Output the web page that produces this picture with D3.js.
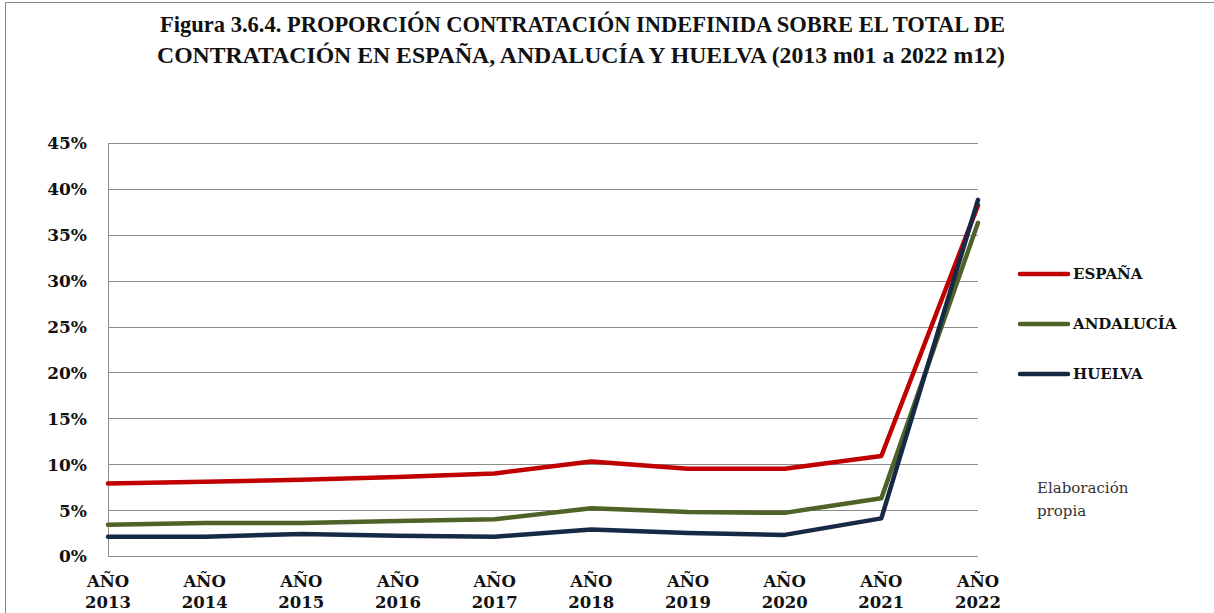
<!DOCTYPE html>
<html>
<head>
<meta charset="utf-8">
<script src="https://cdn.jsdelivr.net/npm/d3@7"></script>
<style>
  body { margin: 0; background: #fff; }
  svg { display: block; }
</style>
</head>
<body>
<script>
// datos
var years = ["2013", "2014", "2015", "2016", "2017", "2018", "2019", "2020", "2021", "2022"];
var espana    = [7.9, 8.1, 8.3, 8.6, 9.0, 10.3, 9.5, 9.5, 10.9, 38.2];
var andalucia = [3.4, 3.6, 3.6, 3.8, 4.0, 5.2, 4.8, 4.7, 6.3, 36.3];
var huelva    = [2.1, 2.1, 2.4, 2.2, 2.1, 2.9, 2.5, 2.3, 4.1, 38.8];
var yTicks = [0, 5, 10, 15, 20, 25, 30, 35, 40, 45];

var series = [
  {name: "ESPAÑA", values: espana, color: "#c00000"},
  {name: "ANDALUCÍA", values: andalucia, color: "#4f6228"},
  {name: "HUELVA", values: huelva, color: "#172a45"}
];

var width = 1214,
    height = 613;

var plot_left = 108, plot_right = 978, plot_top = 143, plot_bottom = 556;

var svg = d3.select("body").append("svg")
    .attr("width", width)
    .attr("height", height);

// marco exterior
svg.append("path")
    .attr("d", "M5.5," + height + "V2.5H" + width)
    .attr("fill", "none")
    .attr("stroke", "#888")
    .attr("stroke-width", 1);

var title = svg.append("g")
    .attr("font-family", "'Liberation Serif', serif")
    .attr("font-weight", "bold")
    .attr("font-size", 23)
    .attr("fill", "#111")
    .style("white-space", "pre");
title.append("text")
    .attr("x", 160).attr("y", 32)
    .attr("textLength", 845).attr("lengthAdjust", "spacingAndGlyphs")
    .text("Figura 3.6.4. PROPORCIÓN CONTRATACIÓN INDEFINIDA SOBRE EL TOTAL DE");
title.append("text")
    .attr("x", 157).attr("y", 63)
    .attr("textLength", 848).attr("lengthAdjust", "spacingAndGlyphs")
    .text("CONTRATACIÓN  EN ESPAÑA, ANDALUCÍA Y HUELVA (2013 m01 a 2022 m12)");

var x = d3.scalePoint()
    .domain(years)
    .range([plot_left, plot_right]);

var y = d3.scaleLinear()
    .domain([0, 45])
    .range([plot_bottom, plot_top]);

// rejilla
svg.append("g")
    .selectAll("line")
    .data(yTicks)
  .enter().append("line")
    .attr("x1", plot_left)
    .attr("x2", plot_right)
    .attr("y1", function(d) { return Math.round(y(d)) + 0.5; })
    .attr("y2", function(d) { return Math.round(y(d)) + 0.5; })
    .attr("stroke", "#8c8c8c")
    .attr("stroke-width", 1);

svg.append("line")
    .attr("x1", plot_left + 0.5).attr("x2", plot_left + 0.5)
    .attr("y1", plot_top).attr("y2", plot_bottom)
    .attr("stroke", "#8c8c8c");

var yAxis = svg.append("g")
    .attr("transform", "translate(" + (plot_left - 18) + ",0)")
    .call(d3.axisLeft(y).tickValues(yTicks).tickSize(0).tickFormat(function(d) { return d + "%"; }));
yAxis.select(".domain").remove();
yAxis.selectAll("text")
    .attr("font-family", "'DejaVu Serif', serif")
    .attr("font-weight", "bold")
    .attr("font-size", 17)
    .attr("fill", "#111")
    .attr("dy", "0.35em");

// eje x
var xLab = svg.append("g")
    .attr("font-family", "'DejaVu Serif', serif")
    .attr("font-weight", "bold")
    .attr("font-size", 16.5)
    .attr("fill", "#111")
    .attr("text-anchor", "middle")
    .selectAll("text")
    .data(years)
  .enter().append("text")
    .attr("transform", function(d) { return "translate(" + x(d) + ",0)"; });
xLab.append("tspan").attr("x", 0).attr("y", 587).text("AÑO");
xLab.append("tspan").attr("x", 0).attr("y", 608).text(function(d) { return d; });

// lineas
var line = d3.line()
    .x(function(d, i) { return x(years[i]); })
    .y(function(d) { return y(d); });

svg.append("g")
    .selectAll("path")
    .data(series)
  .enter().append("path")
    .attr("d", function(d) { return line(d.values); })
    .attr("fill", "none")
    .attr("stroke", function(d) { return d.color; })
    .attr("stroke-width", 4.5)
    .attr("stroke-linejoin", "round")
    .attr("stroke-linecap", "round");

// leyenda
var legend = svg.append("g")
    .selectAll("g")
    .data(series)
  .enter().append("g")
    .attr("transform", function(d, i) { return "translate(1020," + (274 + i * 50) + ")"; });
legend.append("line")
    .attr("x1", 0).attr("x2", 48)
    .attr("stroke", function(d) { return d.color; })
    .attr("stroke-width", 4.5)
    .attr("stroke-linecap", "round");
legend.append("text")
    .attr("x", 53)
    .attr("dy", "0.35em")
    .attr("font-family", "'DejaVu Serif', serif")
    .attr("font-weight", "bold")
    .attr("font-size", 15)
    .attr("fill", "#111")
    .text(function(d) { return d.name; });

var note = svg.append("g")
    .attr("font-family", "'DejaVu Serif', serif")
    .attr("font-size", 15)
    .attr("fill", "#333");
note.append("text").attr("x", 1037).attr("y", 493).text("Elaboración");
note.append("text").attr("x", 1037).attr("y", 516).text("propia");
</script>
</body>
</html>
